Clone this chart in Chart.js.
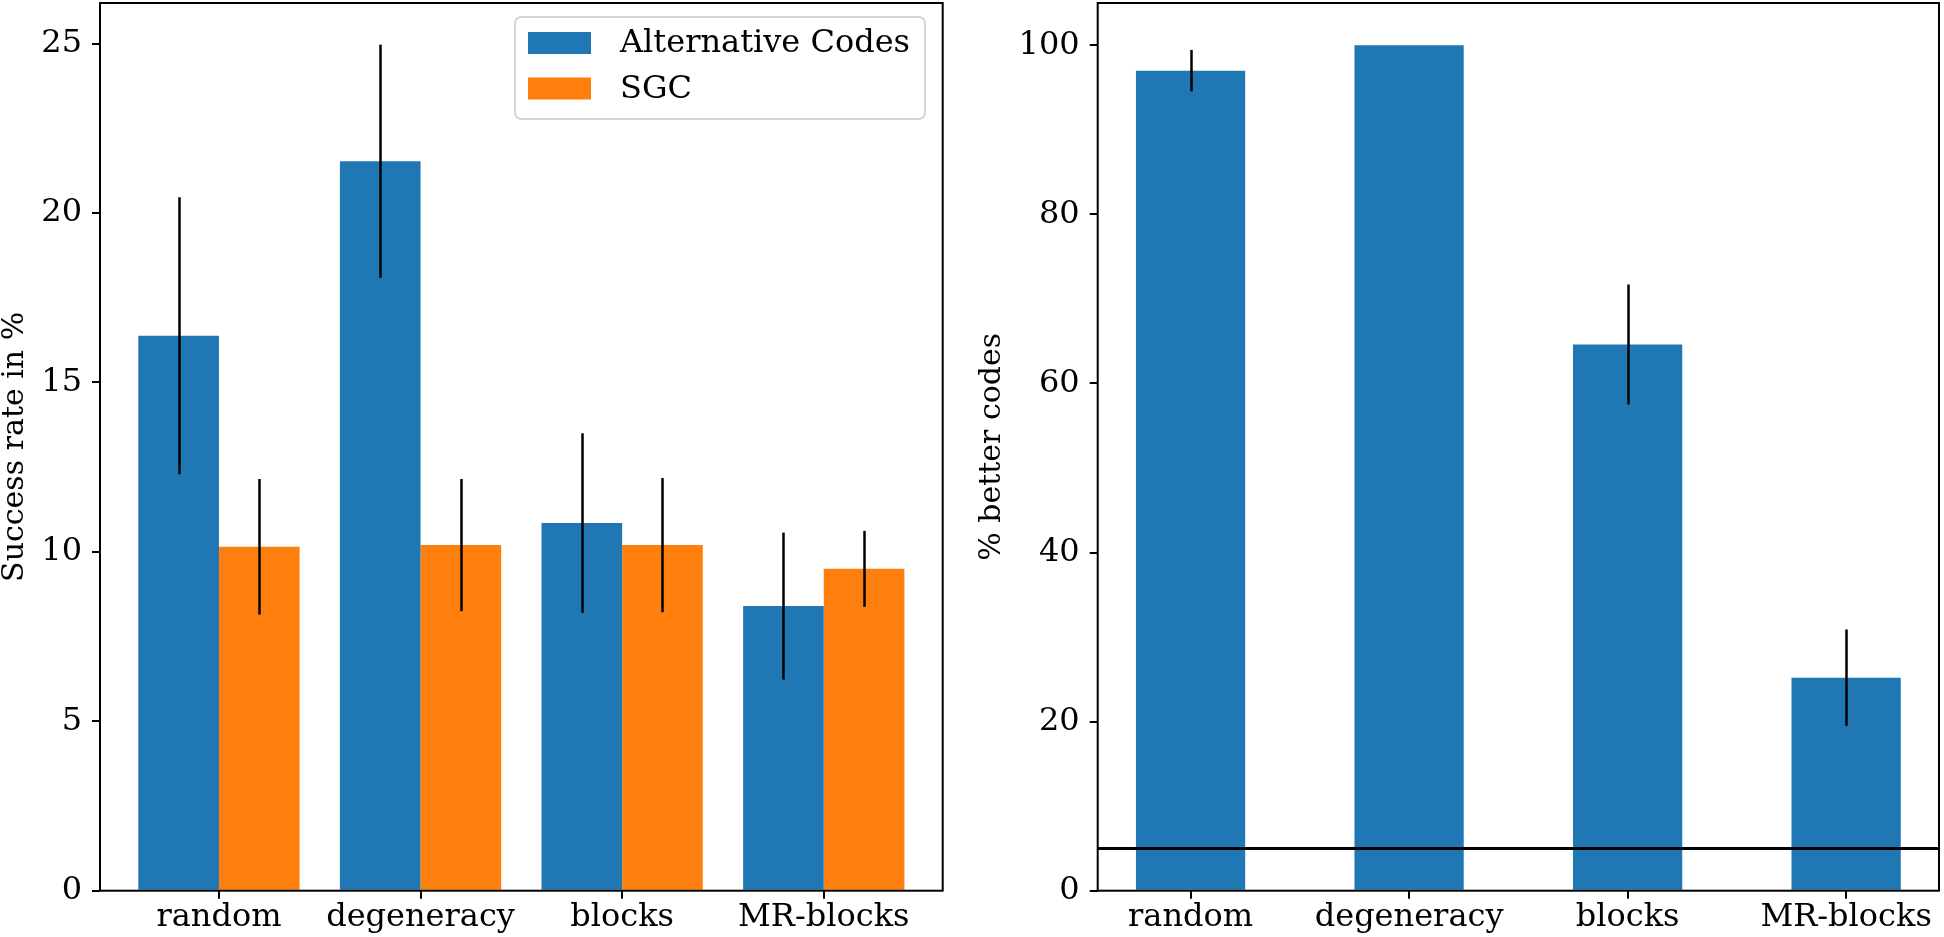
<!DOCTYPE html>
<html>
<head>
<meta charset="utf-8">
<script src="https://cdn.jsdelivr.net/npm/chart.js@4/dist/chart.umd.min.js"></script>
<style>
  html, body { margin: 0; padding: 0; background: #fff; }
  #wrap { position: relative; width: 1944px; height: 937px; overflow: hidden; }
  canvas { position: absolute; top: 0; }
  #c1 { left: 0; }
  #c2 { left: 960px; }
</style>
</head>
<body>
<div id="wrap">
  <canvas id="c1" width="960" height="937"></canvas>
  <canvas id="c2" width="984" height="937"></canvas>
</div>
<script>
// ---- data ----
const categories = ['random', 'degeneracy', 'blocks', 'MR-blocks'];
const seriesNames = ['Alternative Codes', 'SGC'];
const altCodes = [16.38, 21.53, 10.85, 8.40];
const altCodesErr = [4.09, 3.44, 2.65, 2.17];
const sgc = [10.15, 10.20, 10.20, 9.50];
const sgcErr = [2.00, 1.95, 1.98, 1.12];
const betterCodes = [97.0, 100.0, 64.6, 25.2];
const betterCodesErr = [2.45, 0, 7.1, 5.7];
const leftTicks = [0, 5, 10, 15, 20, 25];
const rightTicks = [0, 20, 40, 60, 80, 100];
const thresholdValue = 5;
const leftTitle = 'Success rate in %';
const rightTitle = '% better codes';

// ---- styles ----
const BLUE = '#1f77b4';
const ORANGE = '#ff7f0e';
const FONT = "'DejaVu Serif', serif";
const TICK_FS = 32;
const TITLE_FS = 30;
const LEGEND_FS = 32;

const toXY = arr => arr.map((v, i) => ({ x: i, y: v }));

const errorBarPlugin = {
  id: 'errorBars',
  afterDatasetsDraw(chart) {
    const ctx = chart.ctx;
    const ys = chart.scales.y;
    ctx.save();
    ctx.strokeStyle = '#000';
    ctx.lineWidth = 2.5;
    chart.data.datasets.forEach((ds, di) => {
      if (!ds.errors) return;
      const meta = chart.getDatasetMeta(di);
      meta.data.forEach((bar, i) => {
        const e = ds.errors[i];
        if (!e) return;
        const v = ds.data[i].y;
        ctx.beginPath();
        ctx.moveTo(Math.round(bar.x) + 0.5, ys.getPixelForValue(v - e));
        ctx.lineTo(Math.round(bar.x) + 0.5, ys.getPixelForValue(v + e));
        ctx.stroke();
      });
    });
    ctx.restore();
  }
};

const framePlugin = {
  id: 'frame',
  afterDraw(chart) {
    const a = chart.chartArea;
    const ctx = chart.ctx;
    ctx.save();
    ctx.strokeStyle = '#000';
    ctx.lineWidth = 2;
    ctx.strokeRect(a.left, a.top, a.right - a.left, a.bottom - a.top);
    ctx.restore();
  }
};

const thresholdPlugin = {
  id: 'threshold',
  afterDatasetsDraw(chart, args, opts) {
    if (opts.value === undefined) return;
    const a = chart.chartArea;
    const y = chart.scales.y.getPixelForValue(opts.value);
    const ctx = chart.ctx;
    ctx.save();
    ctx.strokeStyle = '#000';
    ctx.lineWidth = 3;
    ctx.beginPath();
    ctx.moveTo(a.left, y);
    ctx.lineTo(a.right, y);
    ctx.stroke();
    ctx.restore();
  }
};

const legendPlugin = {
  id: 'boxLegend',
  afterDraw(chart, args, opts) {
    if (!opts.show) return;
    const ctx = chart.ctx;
    const L = 515, T = 17, W = 410, H = 102, R = 6;
    ctx.save();
    ctx.beginPath();
    ctx.roundRect(L, T, W, H, R);
    ctx.fillStyle = 'rgba(255,255,255,0.8)';
    ctx.fill();
    ctx.strokeStyle = '#d4d4d4';
    ctx.lineWidth = 2;
    ctx.stroke();
    const rows = [43, 88.5];
    chart.data.datasets.forEach((ds, i) => {
      const cy = rows[i];
      ctx.fillStyle = ds.backgroundColor;
      ctx.fillRect(528, cy - 11, 63, 22);
      ctx.fillStyle = '#000';
      ctx.font = LEGEND_FS + 'px ' + FONT;
      ctx.textBaseline = 'middle';
      ctx.textAlign = 'left';
      ctx.fillText(ds.label, 620, cy + 1);
    });
    ctx.restore();
  }
};

function makeOptions(opt) {
  return {
    responsive: false,
    animation: false,
    devicePixelRatio: 1,
    layout: { padding: opt.padding },
    plugins: {
      legend: { display: false },
      tooltip: { enabled: false },
      threshold: { value: opt.threshold },
      boxLegend: { show: opt.legend }
    },
    scales: {
      x: {
        type: 'linear',
        min: opt.xmin,
        max: opt.xmax,
        offset: false,
        border: { display: false },
        grid: { drawOnChartArea: false, drawTicks: true, tickLength: 8, tickColor: '#000', lineWidth: 2, offset: false },
        afterBuildTicks: s => { s.ticks = categories.map((c, i) => ({ value: i })); },
        ticks: {
          autoSkip: false, maxRotation: 0, minRotation: 0, padding: 0,
          color: '#000', font: { family: FONT, size: TICK_FS },
          callback: v => categories[v]
        },
        afterFit: s => { s.height = opt.xHeight; s.paddingLeft = 0; s.paddingRight = 0; }
      },
      y: {
        type: 'linear',
        min: 0,
        max: opt.ymax,
        border: { display: false },
        grid: { drawOnChartArea: false, drawTicks: true, tickLength: 8, tickColor: '#000', lineWidth: 2 },
        afterBuildTicks: s => { s.ticks = opt.yTicks.map(v => ({ value: v })); },
        ticks: { padding: 10, color: '#000', font: { family: FONT, size: TICK_FS } },
        title: { display: true, text: opt.title, color: '#000', font: { family: FONT, size: TITLE_FS, lineHeight: 1 }, padding: { top: 0, bottom: 0 } },
        afterFit: s => { s.width = opt.yWidth; s.paddingTop = 0; s.paddingBottom = 0; }
      }
    }
  };
}

new Chart(document.getElementById('c1'), {
  type: 'bar',
  data: {
    datasets: [
      { label: seriesNames[0], data: toXY(altCodes), errors: altCodesErr, backgroundColor: BLUE, categoryPercentage: 0.8, barPercentage: 1.0 },
      { label: seriesNames[1], data: toXY(sgc), errors: sgcErr, backgroundColor: ORANGE, categoryPercentage: 0.8, barPercentage: 1.0 }
    ]
  },
  options: makeOptions({
    padding: { top: 3, right: 17.3, left: 0, bottom: 0 },
    xmin: -0.59, xmax: 3.59, ymax: 26.2, yTicks: leftTicks,
    title: leftTitle, yWidth: 100, xHeight: 46.3, legend: true
  }),
  plugins: [errorBarPlugin, framePlugin, legendPlugin]
});

new Chart(document.getElementById('c2'), {
  type: 'bar',
  data: {
    datasets: [
      { label: rightTitle, data: toXY(betterCodes), errors: betterCodesErr, backgroundColor: BLUE, categoryPercentage: 0.5, barPercentage: 1.0 }
    ]
  },
  options: makeOptions({
    padding: { top: 3, right: 5, left: 17.6, bottom: 0 },
    xmin: -0.425, xmax: 3.425, ymax: 105, yTicks: rightTicks,
    title: rightTitle, yWidth: 120.1, xHeight: 46.3, legend: false, threshold: thresholdValue
  }),
  plugins: [errorBarPlugin, thresholdPlugin, framePlugin, legendPlugin]
});
</script>
</body>
</html>
